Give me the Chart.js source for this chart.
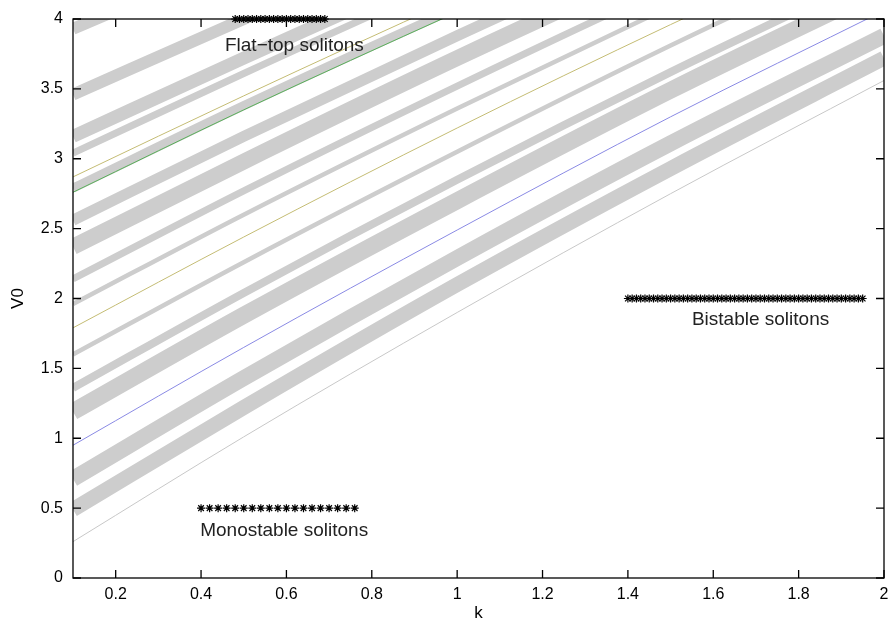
<!DOCTYPE html>
<html>
<head>
<meta charset="utf-8">
<script src="https://cdn.jsdelivr.net/npm/chart.js@4.4.0/dist/chart.umd.min.js"></script>
<style>
  html, body { margin: 0; padding: 0; background: #fff; }
  #wrap { width: 891px; height: 624px; position: relative; }
</style>
</head>
<body>
<div id="wrap"><canvas id="c"></canvas></div>
<script>
/* globals Chart */
const FONT = "'Liberation Sans', Arial, Helvetica, sans-serif";

// k values where every curve is sampled
const kGrid = [0.1, 0.5, 1.0, 1.5, 2.0];

// thick gray bands, bottom to top (V0 at each kGrid point)
const bandV0 = [
  [0.49, 1.22, 2.10, 2.93, 3.72],
  [0.71, 1.43, 2.29, 3.11, 3.88],
  [1.19, 1.88, 2.70, 3.49, 4.23],
  [1.36, 2.04, 2.85, 3.62, 4.35],
  [1.60, 2.26, 3.05, 3.81, 4.53],
  [1.96, 2.60, 3.36, 4.09, 4.79],
  [2.14, 2.77, 3.52, 4.24, 4.92],
  [2.37, 2.98, 3.72, 4.42, 5.08],
  [2.56, 3.16, 3.88, 4.57, 5.22],
  [2.79, 3.38, 4.08, 4.75, 5.39],
  [3.04, 3.61, 4.30, 4.95, 5.57],
  [3.16, 3.72, 4.40, 5.04, 5.65],
  [3.46, 4.00, 4.66, 5.28, 5.87],
  [3.93, 4.45, 5.06, 5.65, 6.21]
];
const bandWidth = [15, 16, 17, 8, 4.5, 4.5, 7, 16, 11, 9, 7, 13, 12, 12];

// thin curves
const thinGrayV0 = [0.26, 1.01, 1.90, 2.75, 3.56];
const blueV0 = [0.95, 1.65, 2.49, 3.30, 4.06];
const oliveLowV0 = [1.79, 2.44, 3.22, 3.96, 4.66];
const greenV0 = [2.76, 3.35, 4.05, 4.73, 5.36];
const oliveHighV0 = [2.87, 3.45, 4.15, 4.81, 5.44];

// asterisk rows
const flatTopK = [0.48, 0.49, 0.50, 0.51, 0.52, 0.53, 0.54, 0.55, 0.56, 0.57, 0.58,
  0.59, 0.60, 0.61, 0.62, 0.63, 0.64, 0.65, 0.66, 0.67, 0.68, 0.69];
const flatTopV0 = 4;
const bistableK = [1.40, 1.41, 1.42, 1.43, 1.44, 1.45, 1.46, 1.47, 1.48, 1.49,
  1.50, 1.51, 1.52, 1.53, 1.54, 1.55, 1.56, 1.57, 1.58, 1.59,
  1.60, 1.61, 1.62, 1.63, 1.64, 1.65, 1.66, 1.67, 1.68, 1.69,
  1.70, 1.71, 1.72, 1.73, 1.74, 1.75, 1.76, 1.77, 1.78, 1.79,
  1.80, 1.81, 1.82, 1.83, 1.84, 1.85, 1.86, 1.87, 1.88, 1.89,
  1.90, 1.91, 1.92, 1.93, 1.94, 1.95];
const bistableV0 = 2;
const monoK = [0.40, 0.42, 0.44, 0.46, 0.48, 0.50, 0.52, 0.54, 0.56, 0.58,
  0.60, 0.62, 0.64, 0.66, 0.68, 0.70, 0.72, 0.74, 0.76];
const monoV0 = 0.5;

// text annotations
const noteText = ['Flat\u2212top solitons', 'Bistable solitons', 'Monostable solitons'];
const noteK = [0.456, 1.55, 0.398];
const noteV0 = [3.81, 1.846, 0.336];

// axis ticks
const xTicks = [0.2, 0.4, 0.6, 0.8, 1, 1.2, 1.4, 1.6, 1.8, 2];
const yTicks = [0, 0.5, 1, 1.5, 2, 2.5, 3, 3.5, 4];

const pts = (v) => kGrid.map((k, i) => ({ x: k, y: v[i] }));

function curve(v, color, width) {
  return {
    type: 'line',
    data: pts(v),
    borderColor: color,
    borderWidth: width,
    pointRadius: 0,
    fill: false,
    cubicInterpolationMode: 'monotone',
    clip: 0
  };
}

function stars(ks, v0) {
  return {
    type: 'scatter',
    data: ks.map(k => ({ x: k, y: v0 })),
    pointStyle: 'star',
    pointRadius: 4,
    borderColor: '#000',
    backgroundColor: '#000',
    pointBorderWidth: 1.2,
    showLine: false,
    clip: false
  };
}

const datasets = [
  stars(flatTopK, flatTopV0),
  stars(bistableK, bistableV0),
  stars(monoK, monoV0),
  curve(blueV0, '#8a8ae4', 1),
  curve(oliveLowV0, '#c4bc74', 1),
  curve(oliveHighV0, '#c4bc74', 1),
  curve(greenV0, '#5aae5a', 1),
  curve(thinGrayV0, '#c8c8c8', 1),
  ...bandV0.map((v, i) => curve(v, '#cdcdcd', bandWidth[i]))
];

// text notes go right after the data
const notesPlugin = {
  id: 'notes',
  afterDatasetsDraw(chart) {
    const { ctx, scales: { x, y } } = chart;
    ctx.save();
    ctx.fillStyle = '#222';
    ctx.font = `19px ${FONT}`;
    ctx.textAlign = 'left';
    ctx.textBaseline = 'middle';
    noteText.forEach((t, i) => {
      ctx.fillText(t, x.getPixelForValue(noteK[i]), y.getPixelForValue(noteV0[i]));
    });
    ctx.restore();
  }
};

// box around the plot with inward ticks on all four sides (matlab look)
const boxPlugin = {
  id: 'mbox',
  afterDraw(chart) {
    const { ctx, chartArea: a } = chart;
    const x = chart.scales.x, y = chart.scales.y;
    const L = a.left, R = a.right, T = a.top, B = a.bottom;
    const tl = 8;
    ctx.save();
    ctx.strokeStyle = '#000';
    ctx.lineWidth = 1.3;
    ctx.strokeRect(L, T, R - L, B - T);
    xTicks.forEach((v) => {
      const px = x.getPixelForValue(v);
      ctx.beginPath();
      ctx.moveTo(px, B); ctx.lineTo(px, B - tl);
      ctx.moveTo(px, T); ctx.lineTo(px, T + tl);
      ctx.stroke();
    });
    yTicks.forEach((v) => {
      const py = y.getPixelForValue(v);
      ctx.beginPath();
      ctx.moveTo(L, py); ctx.lineTo(L + tl, py);
      ctx.moveTo(R, py); ctx.lineTo(R - tl, py);
      ctx.stroke();
    });
    ctx.restore();
  }
};

new Chart(document.getElementById('c'), {
  type: 'line',
  data: { datasets },
  options: {
    responsive: true,
    maintainAspectRatio: false,
    animation: false,
    layout: { padding: { top: 19, right: 7, left: 0, bottom: 0 } },
    plugins: { legend: { display: false }, tooltip: { enabled: false } },
    scales: {
      x: {
        type: 'linear',
        min: 0.1,
        max: 2,
        grid: { display: false, drawTicks: false },
        border: { display: false },
        afterBuildTicks: (s) => { s.ticks = xTicks.map(v => ({ value: v })); },
        // fixed height; drop the label overhang padding so the box ends at 884px
        afterFit: (s) => { s.height = 46; s.paddingLeft = 0; s.paddingRight = 0; },
        ticks: {
          color: '#000', font: { family: FONT, size: 16 }, padding: 7,
          maxRotation: 0, autoSkip: false, callback: (v) => String(v)
        },
        title: {
          display: true, text: 'k', color: '#000',
          font: { family: FONT, size: 17 }, padding: { top: 0, bottom: 0 }
        }
      },
      y: {
        type: 'linear',
        min: 0,
        max: 4,
        grid: { display: false, drawTicks: false },
        border: { display: false },
        afterBuildTicks: (s) => { s.ticks = yTicks.map(v => ({ value: v })); },
        afterFit: (s) => { s.width = 73; s.paddingTop = 0; s.paddingBottom = 0; },
        ticks: {
          color: '#000', font: { family: FONT, size: 16 }, padding: 10,
          autoSkip: false, callback: (v) => String(v)
        },
        title: {
          display: true, text: 'V0', color: '#000',
          font: { family: FONT, size: 17 }, padding: { top: 8, bottom: 0 }
        }
      }
    }
  },
  plugins: [notesPlugin, boxPlugin]
});
</script>
</body>
</html>
